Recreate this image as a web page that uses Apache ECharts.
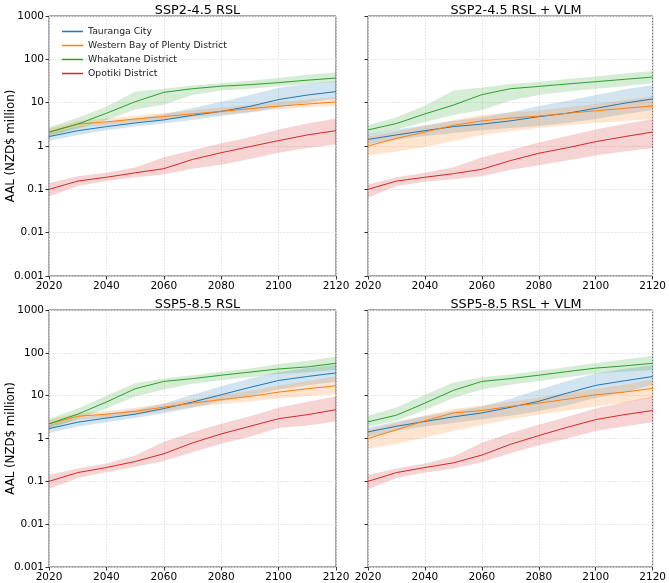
<!DOCTYPE html>
<html>
<head>
<meta charset="utf-8">
<script src="https://cdn.jsdelivr.net/npm/echarts@6/dist/echarts.min.js"></script>
<style>
  html, body { margin: 0; padding: 0; background: #fff; }
  #chart { width: 669px; height: 583px; }
</style>
</head>
<body>
<div id="chart"></div>
<script>
// years on the x axis
const years = [2020, 2030, 2040, 2050, 2060, 2070, 2080, 2090, 2100, 2110, 2120];
const districts = ["Tauranga City", "Western Bay of Plenty District", "Whakatane District", "Opotiki District"];
const panelTitles = ["SSP2-4.5 RSL", "SSP2-4.5 RSL + VLM", "SSP5-8.5 RSL", "SSP5-8.5 RSL + VLM"];

// SSP2-4.5 RSL
const a_tau = [1.65, 2.25, 2.8, 3.4, 4.0, 5.1, 6.3, 8.2, 11.8, 15, 18];
const a_tauLo = [1.3, 1.8, 2.3, 2.8, 3.3, 4.0, 4.9, 5.9, 7.8, 10, 12.5];
const a_tauHi = [2.0, 2.8, 3.5, 4.3, 5.5, 7.5, 10.5, 15, 22, 27, 31];
const a_wbp = [2.1, 3.2, 3.6, 4.2, 4.8, 5.5, 6.3, 7.3, 8.3, 9.3, 10.4];
const a_wbpLo = [1.8, 2.7, 3.1, 3.6, 4.1, 4.7, 5.3, 6.1, 7.0, 7.8, 8.4];
const a_wbpHi = [2.5, 3.8, 4.3, 5.0, 5.7, 6.6, 7.7, 9.0, 10.4, 11.8, 13.5];
const a_wha = [2.1, 3.2, 5.7, 10.5, 17.3, 21, 24, 26, 29, 33, 37];
const a_whaLo = [1.7, 2.5, 4.0, 7.0, 9.0, 15, 19, 21, 24, 27, 30];
const a_whaHi = [2.7, 4.5, 8.0, 18, 21, 25, 28, 32, 37, 44, 50];
const a_opo = [0.10, 0.155, 0.19, 0.24, 0.30, 0.49, 0.70, 0.97, 1.33, 1.8, 2.26];
const a_opoLo = [0.068, 0.12, 0.155, 0.19, 0.22, 0.3, 0.37, 0.5, 0.7, 0.9, 1.1];
const a_opoHi = [0.14, 0.2, 0.24, 0.32, 0.55, 0.8, 1.15, 1.6, 2.4, 3.3, 4.3];

// SSP2-4.5 RSL + VLM
const b_tau = [1.42, 1.8, 2.26, 2.8, 3.2, 3.8, 4.75, 5.7, 7.4, 9.7, 12.2];
const b_tauLo = [1.1, 1.4, 1.7, 2.0, 2.3, 2.6, 2.9, 3.4, 4.2, 5.4, 6.8];
const b_tauHi = [1.9, 2.4, 3.0, 3.8, 4.6, 6.0, 8.4, 11, 15, 20, 25.5];
const b_wbp = [1.0, 1.5, 2.1, 3.0, 3.8, 4.4, 4.9, 5.7, 6.5, 7.4, 8.4];
const b_wbpLo = [0.6, 0.75, 0.95, 1.3, 1.8, 2.2, 2.6, 3.0, 3.4, 3.8, 4.2];
const b_wbpHi = [1.65, 2.2, 2.9, 4.0, 5.2, 5.9, 6.6, 7.8, 9.3, 11.3, 13.8];
const b_wha = [2.35, 3.3, 5.5, 8.8, 15.3, 21, 23.7, 27, 30.5, 34.5, 39];
const b_whaLo = [1.8, 2.4, 3.6, 5.2, 6.8, 11, 15, 18, 21, 24, 28];
const b_whaHi = [3.0, 4.6, 8.5, 19, 22.5, 27, 30, 35, 40, 47, 54];
const b_opo = [0.10, 0.155, 0.19, 0.23, 0.29, 0.46, 0.68, 0.91, 1.26, 1.64, 2.1];
const b_opoLo = [0.065, 0.12, 0.15, 0.17, 0.2, 0.28, 0.36, 0.46, 0.6, 0.75, 0.9];
const b_opoHi = [0.13, 0.19, 0.24, 0.32, 0.55, 0.8, 1.2, 1.7, 2.4, 3.2, 4.2];

// SSP5-8.5 RSL
const c_tau = [1.7, 2.4, 3.0, 3.7, 5.0, 7.1, 10.5, 15.6, 22.6, 28, 34];
const c_tauLo = [1.35, 1.9, 2.4, 3.0, 3.9, 5.2, 7.4, 10, 14, 17.5, 21];
const c_tauHi = [2.1, 3.0, 3.8, 4.7, 6.6, 10.5, 16.5, 25, 35, 44, 52];
const c_wbp = [2.2, 3.3, 3.7, 4.3, 5.4, 6.7, 8.1, 9.6, 12.1, 14.5, 17];
const c_wbpLo = [1.8, 2.8, 3.1, 3.6, 4.4, 5.4, 6.4, 7.3, 8.6, 9.8, 10.9];
const c_wbpHi = [2.7, 3.9, 4.4, 5.2, 6.5, 8.3, 10.3, 13, 17, 22, 28];
const c_wha = [2.2, 3.7, 7.1, 14.5, 21.5, 25, 30, 35.5, 42, 47, 57];
const c_whaLo = [1.7, 2.9, 5.0, 9.6, 14, 19, 23, 27, 32, 35, 40];
const c_whaHi = [2.9, 5.0, 10, 19.6, 25, 30, 36, 43, 55, 65, 81];
const c_opo = [0.10, 0.16, 0.21, 0.29, 0.44, 0.79, 1.28, 1.93, 2.9, 3.6, 4.7];
const c_opoLo = [0.066, 0.12, 0.165, 0.22, 0.3, 0.48, 0.75, 1.1, 1.77, 2.0, 2.5];
const c_opoHi = [0.14, 0.2, 0.26, 0.4, 0.84, 1.4, 2.2, 3.3, 5.2, 7.2, 9.6];

// SSP5-8.5 RSL + VLM
const d_tau = [1.43, 1.93, 2.5, 3.2, 3.95, 5.35, 7.4, 11.5, 17.4, 22.2, 28];
const d_tauLo = [1.1, 1.5, 1.9, 2.3, 2.8, 3.4, 4.3, 6.0, 8.8, 12, 18];
const d_tauHi = [1.8, 2.5, 3.3, 4.3, 5.6, 8.5, 13.8, 22, 33, 42, 52];
const d_wbp = [1.0, 1.6, 2.6, 3.95, 4.5, 5.6, 6.7, 8.3, 10.5, 12.1, 14.8];
const d_wbpLo = [0.57, 0.75, 1.05, 1.5, 2.1, 2.8, 3.6, 4.5, 5.6, 6.9, 8.8];
const d_wbpHi = [1.6, 2.3, 3.5, 4.9, 5.9, 7.3, 9.0, 11.5, 14.5, 18, 24];
const d_wha = [2.45, 3.5, 6.7, 13.3, 21.5, 25, 30, 36.5, 44, 49.5, 57];
const d_whaLo = [1.9, 2.6, 4.6, 8.8, 14, 18, 22, 27, 33, 36, 40];
const d_whaHi = [3.4, 5.3, 10.5, 20.4, 27, 31, 38, 47, 58, 70, 85];
const d_opo = [0.10, 0.16, 0.21, 0.27, 0.41, 0.73, 1.17, 1.83, 2.76, 3.6, 4.5];
const d_opoLo = [0.065, 0.12, 0.16, 0.2, 0.28, 0.45, 0.7, 1.0, 1.5, 1.9, 2.4];
const d_opoHi = [0.14, 0.2, 0.26, 0.38, 0.8, 1.35, 2.1, 3.2, 5.0, 7.0, 9.6];

const COLORS = ["#1f77b4", "#ff7f0e", "#2ca02c", "#d62728"];
const BAND_COLORS = ["rgba(31,119,180,0.2)", "rgba(255,127,14,0.2)", "rgba(44,160,44,0.2)", "rgba(214,39,40,0.2)"];

const panels = [
  [[a_tau, a_tauLo, a_tauHi], [a_wbp, a_wbpLo, a_wbpHi], [a_wha, a_whaLo, a_whaHi], [a_opo, a_opoLo, a_opoHi]],
  [[b_tau, b_tauLo, b_tauHi], [b_wbp, b_wbpLo, b_wbpHi], [b_wha, b_whaLo, b_whaHi], [b_opo, b_opoLo, b_opoHi]],
  [[c_tau, c_tauLo, c_tauHi], [c_wbp, c_wbpLo, c_wbpHi], [c_wha, c_whaLo, c_whaHi], [c_opo, c_opoLo, c_opoHi]],
  [[d_tau, d_tauLo, d_tauHi], [d_wbp, d_wbpLo, d_wbpHi], [d_wha, d_whaLo, d_whaHi], [d_opo, d_opoLo, d_opoHi]],
];

// 2x2 layout
const GRIDS = [
  { left: 49, top: 16, width: 287, height: 260 },
  { left: 368, top: 16, width: 286, height: 260 },
  { left: 49, top: 310, width: 287, height: 258 },
  { left: 368, top: 310, width: 286, height: 258 },
];

const FONT = "DejaVu Sans";

// shaded range between lo and hi, drawn through the axis scales
function bandSeries(gi, lo, hi, color) {
  return {
    type: "custom",
    xAxisIndex: gi,
    yAxisIndex: gi,
    silent: true,
    z: 1,
    data: years.map((y, i) => [y, lo[i], hi[i]]),
    encode: { x: 0, y: [1, 2] },
    renderItem: (params, api) => {
      if (params.dataIndex !== 0) return null;
      const pts = [];
      for (let i = 0; i < years.length; i++) pts.push(api.coord([years[i], hi[i]]));
      for (let i = years.length - 1; i >= 0; i--) pts.push(api.coord([years[i], lo[i]]));
      return { type: "polygon", shape: { points: pts }, style: { fill: color } };
    },
  };
}

const grid = GRIDS.map(g => Object.assign({ show: true, borderColor: "#555", borderWidth: 1, backgroundColor: "#fff" }, g));

const xAxis = GRIDS.map((g, i) => ({
  type: "value",
  gridIndex: i,
  min: 2020,
  max: 2120,
  interval: 20,
  axisLine: { show: false },
  axisTick: { show: true, length: 3.5, lineStyle: { color: "#333" } },
  axisLabel: {
    color: "#000", fontFamily: FONT, fontSize: 10.5, margin: 5,
    showMinLabel: true, showMaxLabel: true,
    formatter: v => String(v),
  },
  splitLine: { show: true, lineStyle: { color: "#e3e3e3", width: 0.8, type: [2, 1] } },
}));

const yAxis = GRIDS.map((g, i) => ({
  type: "log",
  logBase: 10,
  gridIndex: i,
  min: 0.001,
  max: 1000,
  splitNumber: 6,
  name: i % 2 === 0 ? "AAL (NZD$ million)" : "",
  nameLocation: "middle",
  nameGap: 32,
  nameMoveOverlap: false,
  nameTextStyle: { color: "#000", fontFamily: FONT, fontSize: 11.8 },
  axisLine: { show: false },
  axisTick: { show: true, length: 3.5, lineStyle: { color: "#333" } },
  axisLabel: {
    show: i % 2 === 0,
    color: "#000",
    fontFamily: FONT,
    fontSize: 10.5,
    margin: 5,
    formatter: v => String(Number(Number(v).toPrecision(1))),
  },
  splitLine: { show: true, lineStyle: { color: "#e3e3e3", width: 0.8, type: [2, 1] } },
}));

const series = [];
panels.forEach((panel, gi) => {
  panel.forEach((d, si) => {
    series.push(bandSeries(gi, d[1], d[2], BAND_COLORS[si]));
  });
  panel.forEach((d, si) => {
    series.push({
      name: districts[si],
      type: "line",
      xAxisIndex: gi,
      yAxisIndex: gi,
      z: 3,
      showSymbol: false,
      data: years.map((y, i) => [y, d[0][i]]),
      lineStyle: { color: COLORS[si], width: 1 },
      itemStyle: { color: COLORS[si] },
    });
  });
});

const title = GRIDS.map((g, i) => ({
  text: panelTitles[i],
  left: g.left + g.width / 2,
  top: g.top - 17,
  textAlign: "center",
  textStyle: { color: "#000", fontFamily: FONT, fontSize: 12.8, fontWeight: "normal" },
}));

const chart = echarts.init(document.getElementById("chart"), null, { renderer: "canvas" });
chart.setOption({
  animation: false,
  backgroundColor: "#fff",
  title: title,
  grid: grid,
  xAxis: xAxis,
  yAxis: yAxis,
  legend: {
    data: districts,
    orient: "vertical",
    left: 57,
    top: 22,
    icon: "rect",
    itemWidth: 21,
    itemHeight: 1.5,
    itemGap: 5,
    textStyle: { color: "#222", fontFamily: FONT, fontSize: 9.3 },
  },
  series: series,
});
</script>
</body>
</html>
